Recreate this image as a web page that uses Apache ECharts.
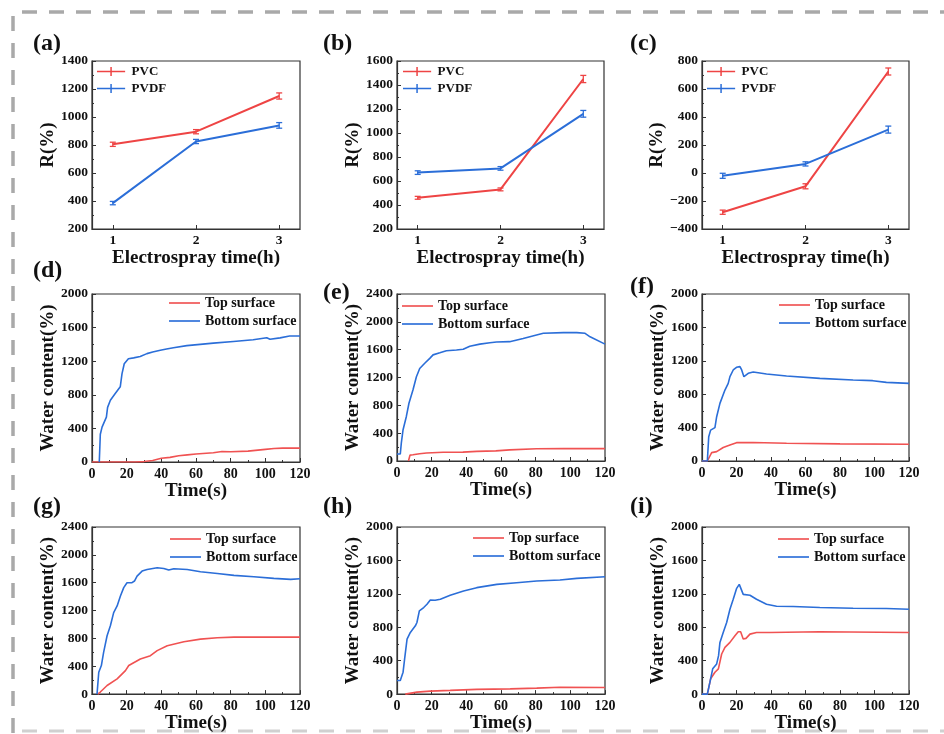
<!DOCTYPE html>
<html><head><meta charset="utf-8">
<script src="https://cdn.jsdelivr.net/npm/echarts@6/dist/echarts.min.js"></script>
<style>html,body{margin:0;padding:0;background:#fff}#c{width:944px;height:734px}</style>
</head><body><div id="c"></div><script>
// ---------------- DATA ----------------
const hours = [1, 2, 3];
const hourTicks = ['1', '2', '3'];
// (a)
const pvcA = [805, 895, 1150];
const pvcAErr = [15, 15, 22];
const pvdfA = [385, 825, 940];
const pvdfAErr = [12, 15, 20];
// (b)
const pvcB = [460, 530, 1450];
const pvcBErr = [12, 12, 30];
const pvdfB = [670, 705, 1160];
const pvdfBErr = [15, 15, 28];
// (c)
const pvcC = [-280, -95, 725];
const pvcCErr = [15, 18, 25];
const pvdfC = [-20, 65, 310];
const pvdfCErr = [18, 15, 25];

// water content curves: [time (s), water content (%)]
const dTop = [[0,0],[25,0],[30,5],[35,18],[40,45],[45,55],[50,75],[55,85],[60,95],[70,110],[75,125],[80,122],[90,130],[100,150],[105,160],[110,165],[120,165]];
const dBottom = [[4.2,0],[4.8,330],[5.8,415],[8.3,535],[9,650],[10.6,735],[13.4,815],[16.3,895],[17.3,1050],[18.6,1170],[21,1230],[24,1240],[27.8,1255],[31.7,1290],[35,1310],[39.4,1330],[43,1345],[47,1360],[54.7,1385],[62.4,1400],[70,1415],[81.6,1435],[93,1455],[100.8,1480],[102.7,1462],[108.5,1478],[114,1500],[120,1500]];
const eTop = [[6.6,0],[7.5,85],[9.2,90],[13,105],[17,115],[26.6,125],[38,128],[46,138],[57,145],[65,160],[80.5,175],[96,180],[120,178]];
const eBottom = [[0,100],[1.9,100],[2.5,260],[3.5,450],[5.4,640],[6.9,830],[9.2,1020],[11.2,1210],[13.1,1330],[16,1405],[18.9,1475],[20.8,1525],[24.7,1555],[28.5,1585],[34.3,1595],[38.2,1605],[42,1650],[47.8,1680],[53.6,1700],[57.4,1710],[65,1715],[72.8,1760],[80.5,1810],[84.4,1835],[96,1845],[103.7,1845],[108.5,1835],[111.4,1785],[120,1680]];
const fTop = [[0,0],[3.1,0],[5.6,100],[8.5,112],[12.3,162],[16.2,192],[20,220],[29.7,222],[49,212],[80,205],[120,200]];
const fBottom = [[0,0],[3.1,0],[3.9,290],[5,370],[7.5,400],[8.5,530],[10.4,690],[13.3,850],[15.2,930],[16.2,1010],[18.1,1090],[20,1122],[22,1130],[23,1090],[24.3,1010],[26.8,1050],[29.7,1065],[37.4,1042],[49,1018],[68.3,990],[87.6,970],[99,962],[106.9,942],[120,930]];
const gTop = [[3.3,0],[4.8,30],[8.7,124],[14.5,219],[19.3,338],[21.2,410],[27.9,505],[33.7,552],[37.6,624],[43.4,695],[53,752],[62.6,790],[72.3,810],[81.9,818],[101,820],[120,818]];
const gBottom = [[2.9,0],[3.9,314],[5.4,410],[6.7,600],[8.7,838],[10.6,981],[12.5,1171],[14.5,1267],[16.4,1410],[18.3,1529],[20.2,1600],[23.1,1600],[24.5,1624],[26,1695],[28.9,1767],[31.8,1790],[37.6,1814],[41.4,1805],[44.3,1781],[47.2,1800],[54.9,1790],[62.6,1757],[72.3,1733],[81.9,1705],[93.4,1686],[104.9,1662],[114.6,1648],[120,1657]];
const hTop = [[4.8,0],[11.5,24],[19.2,36],[30.7,44],[46,56],[65.3,63],[80.6,71],[81.6,85],[94,82],[120,79]];
const hBottom = [[0,163],[1.9,163],[3.5,262],[4.4,421],[5.8,659],[7.7,738],[10.6,817],[11.5,857],[12.9,996],[15.4,1036],[17.3,1075],[19.2,1127],[22,1123],[25,1135],[30.7,1183],[38.4,1234],[46,1274],[57.6,1313],[69,1333],[80.6,1353],[94,1365],[103.7,1385],[120,1405]];
const iTop = [[0,0],[3.1,0],[5,183],[7.5,262],[9.5,302],[11.4,480],[13.3,560],[16.2,619],[19.1,698],[21,746],[22.4,746],[23.9,659],[25.5,667],[27.8,718],[31.6,738],[39.4,738],[68.3,746],[120,738]];
const iBottom = [[0,0],[3.1,0],[4.6,143],[6.2,302],[8.5,361],[9.6,460],[10.4,619],[12.3,738],[14.3,857],[16.2,1016],[18.1,1135],[20,1262],[21.6,1313],[22.6,1294],[23.9,1194],[27.8,1183],[31.6,1135],[37.4,1075],[43.2,1052],[52.9,1048],[68.3,1036],[87.6,1028],[106.9,1024],[120,1016]];

const timeTicks = [0, 20, 40, 60, 80, 100, 120];

// ---------------- STYLE / LAYOUT ----------------
const RED = '#ee4444';
const RED2 = '#f05252';
const BLUE = '#2b6ed8';
const FONT = '"Liberation Serif", "Times New Roman", serif';
const AX = '#333';

const panels = [
  {lab:'(a)', lx:33, ly:45, left:92, top:61, w:208, h:168, kind:'R', ymin:200, ymax:1400, yint:200,
   s:[['PVC', pvcA, pvcAErr, RED], ['PVDF', pvdfA, pvdfAErr, BLUE]], lg:[97, 65]},
  {lab:'(b)', lx:323, ly:45, left:397, top:61, w:207, h:168, kind:'R', ymin:200, ymax:1600, yint:200,
   s:[['PVC', pvcB, pvcBErr, RED], ['PVDF', pvdfB, pvdfBErr, BLUE]], lg:[403, 65]},
  {lab:'(c)', lx:630, ly:45, left:702, top:61, w:207, h:168, kind:'R', ymin:-400, ymax:800, yint:200,
   s:[['PVC', pvcC, pvcCErr, RED], ['PVDF', pvdfC, pvdfCErr, BLUE]], lg:[707, 65]},
  {lab:'(d)', lx:33, ly:272, left:92, top:294, w:208, h:168, kind:'W', ymin:0, ymax:2000, yint:400,
   s:[['Top surface', dTop, RED2], ['Bottom surface', dBottom, BLUE]], lg:[169, 296]},
  {lab:'(e)', lx:323, ly:294, left:397, top:294, w:208, h:167, kind:'W', ymin:0, ymax:2400, yint:400,
   s:[['Top surface', eTop, RED2], ['Bottom surface', eBottom, BLUE]], lg:[402, 299]},
  {lab:'(f)', lx:630, ly:288, left:702, top:294, w:207, h:167, kind:'W', ymin:0, ymax:2000, yint:400,
   s:[['Top surface', fTop, RED2], ['Bottom surface', fBottom, BLUE]], lg:[779, 298]},
  {lab:'(g)', lx:33, ly:508, left:92, top:527, w:208, h:168, kind:'W', ymin:0, ymax:2400, yint:400,
   s:[['Top surface', gTop, RED2], ['Bottom surface', gBottom, BLUE]], lg:[170, 532]},
  {lab:'(h)', lx:323, ly:508, left:397, top:527, w:208, h:168, kind:'W', ymin:0, ymax:2000, yint:400,
   s:[['Top surface', hTop, RED2], ['Bottom surface', hBottom, BLUE]], lg:[473, 531]},
  {lab:'(i)', lx:630, ly:508, left:702, top:527, w:207, h:168, kind:'W', ymin:0, ymax:2000, yint:400,
   s:[['Top surface', iTop, RED2], ['Bottom surface', iBottom, BLUE]], lg:[778, 532]}
];

const numFmt = (v) => (v < 0 ? '\u2212' + Math.abs(v) : String(v));
const lblStyle = {color:'#111', fontFamily:FONT, fontWeight:'bold', fontSize:13.5};
const nameStyle = {color:'#111', fontFamily:FONT, fontWeight:'bold', fontSize:19};

const grid = [], xAxis = [], yAxis = [], series = [], legend = [], graphic = [];

panels.forEach((p, i) => {
  grid.push({left:p.left, top:p.top, width:p.w, height:p.h, show:true, borderColor:AX, borderWidth:1.2, containLabel:false});
  const common = {
    gridIndex:i, type:'value',
    axisLine:{show:true, onZero:false, lineStyle:{color:AX, width:1.2}},
    splitLine:{show:false},
    nameLocation:'middle', nameTextStyle:nameStyle
  };
  if (p.kind === 'R') {
    xAxis.push(Object.assign({}, common, {
      min:0.75, max:3.25, name:'Electrospray time(h)', nameGap:14,
      axisTick:{show:true, inside:true, length:4, customValues:hours, lineStyle:{color:AX}},
      axisLabel:Object.assign({}, lblStyle, {margin:5, customValues:hours, formatter:(v)=>hourTicks[hours.indexOf(v)] || ''})
    }));
    yAxis.push(Object.assign({}, common, {
      min:p.ymin, max:p.ymax, interval:p.yint, name:'R(%)', nameGap:33,
      axisTick:{show:true, inside:true, length:4, lineStyle:{color:AX}},
      minorTick:{show:true, splitNumber:2, length:2, lineStyle:{color:AX}},
      axisLabel:Object.assign({}, lblStyle, {margin:4, formatter:numFmt})
    }));
    p.s.forEach(([name, vals, errs, color]) => {
      series.push({
        name, type:'line', xAxisIndex:i, yAxisIndex:i, symbol:'none',
        data: hours.map((h, k) => [h, vals[k]]),
        lineStyle:{color, width:2}, itemStyle:{color}, z:2
      });
      series.push({
        type:'custom', xAxisIndex:i, yAxisIndex:i, silent:true, z:3,
        data: hours.map((h, k) => [h, vals[k] - errs[k], vals[k] + errs[k]]),
        encode:{x:0, y:[1, 2]},
        renderItem:(params, api) => {
          const x = api.value(0);
          const lo = api.coord([x, api.value(1)]);
          const hi = api.coord([x, api.value(2)]);
          const w = 3;
          const st = {stroke:color, lineWidth:1.3};
          return {type:'group', children:[
            {type:'line', shape:{x1:lo[0], y1:lo[1], x2:hi[0], y2:hi[1]}, style:st},
            {type:'line', shape:{x1:lo[0]-w, y1:lo[1], x2:lo[0]+w, y2:lo[1]}, style:st},
            {type:'line', shape:{x1:hi[0]-w, y1:hi[1], x2:hi[0]+w, y2:hi[1]}, style:st}
          ]};
        }
      });
    });
    legend.push({
      data:p.s.map(s => s[0]), orient:'vertical', left:p.lg[0], top:p.lg[1], padding:0,
      itemWidth:31, itemHeight:9, itemGap:4, selectedMode:false,
      icon:'path://M0,4L30,4L30,5.6L0,5.6Z M14.2,0L15.8,0L15.8,9.6L14.2,9.6Z',
      textStyle:Object.assign({}, lblStyle, {fontSize:13})
    });
  } else {
    xAxis.push(Object.assign({}, common, {
      min:0, max:120, interval:20, name:'Time(s)', nameGap:15,
      axisTick:{show:true, inside:true, length:4, lineStyle:{color:AX}},
      minorTick:{show:true, splitNumber:2, length:2, lineStyle:{color:AX}},
      axisLabel:Object.assign({}, lblStyle, {fontSize:14, margin:5, customValues:timeTicks, formatter:numFmt})
    }));
    yAxis.push(Object.assign({}, common, {
      min:p.ymin, max:p.ymax, interval:p.yint, name:'Water content(%)', nameGap:33,
      axisTick:{show:true, inside:true, length:4, lineStyle:{color:AX}},
      minorTick:{show:true, splitNumber:2, length:2, lineStyle:{color:AX}},
      axisLabel:Object.assign({}, lblStyle, {margin:4, formatter:numFmt})
    }));
    p.s.forEach(([name, pts, color]) => {
      series.push({
        name, type:'line', xAxisIndex:i, yAxisIndex:i, symbol:'none', data:pts,
        lineStyle:{color, width:1.6}, itemStyle:{color}, z:2
      });
    });
    legend.push({
      data:p.s.map(s => s[0]), orient:'vertical', left:p.lg[0], top:p.lg[1], padding:0,
      itemWidth:31, itemHeight:2, itemGap:4, selectedMode:false,
      icon:'path://M0,0L30,0L30,1.6L0,1.6Z',
      textStyle:Object.assign({}, lblStyle, {fontSize:14})
    });
  }
  graphic.push({type:'text', left:p.lx, top:p.ly - 13, style:{text:p.lab, fill:'#111', font:'bold 24px ' + FONT}});
});

// dashed frame
const frameStyle = {stroke:'#a9a9a9', lineWidth:3.5, lineDash:[15, 12]};
graphic.push({type:'line', shape:{x1:22, y1:12, x2:944, y2:12}, style:frameStyle, silent:true});
graphic.push({type:'line', shape:{x1:13, y1:16, x2:13, y2:734}, style:frameStyle, silent:true});
graphic.push({type:'line', shape:{x1:22, y1:731, x2:944, y2:731}, style:{stroke:'#d0d0d0', lineWidth:3, lineDash:[15, 12]}, silent:true});

const chart = echarts.init(document.getElementById('c'), null, {renderer:'canvas'});
chart.setOption({animation:false, backgroundColor:'#fff', grid, xAxis, yAxis, series, legend, graphic});
</script></body></html>
